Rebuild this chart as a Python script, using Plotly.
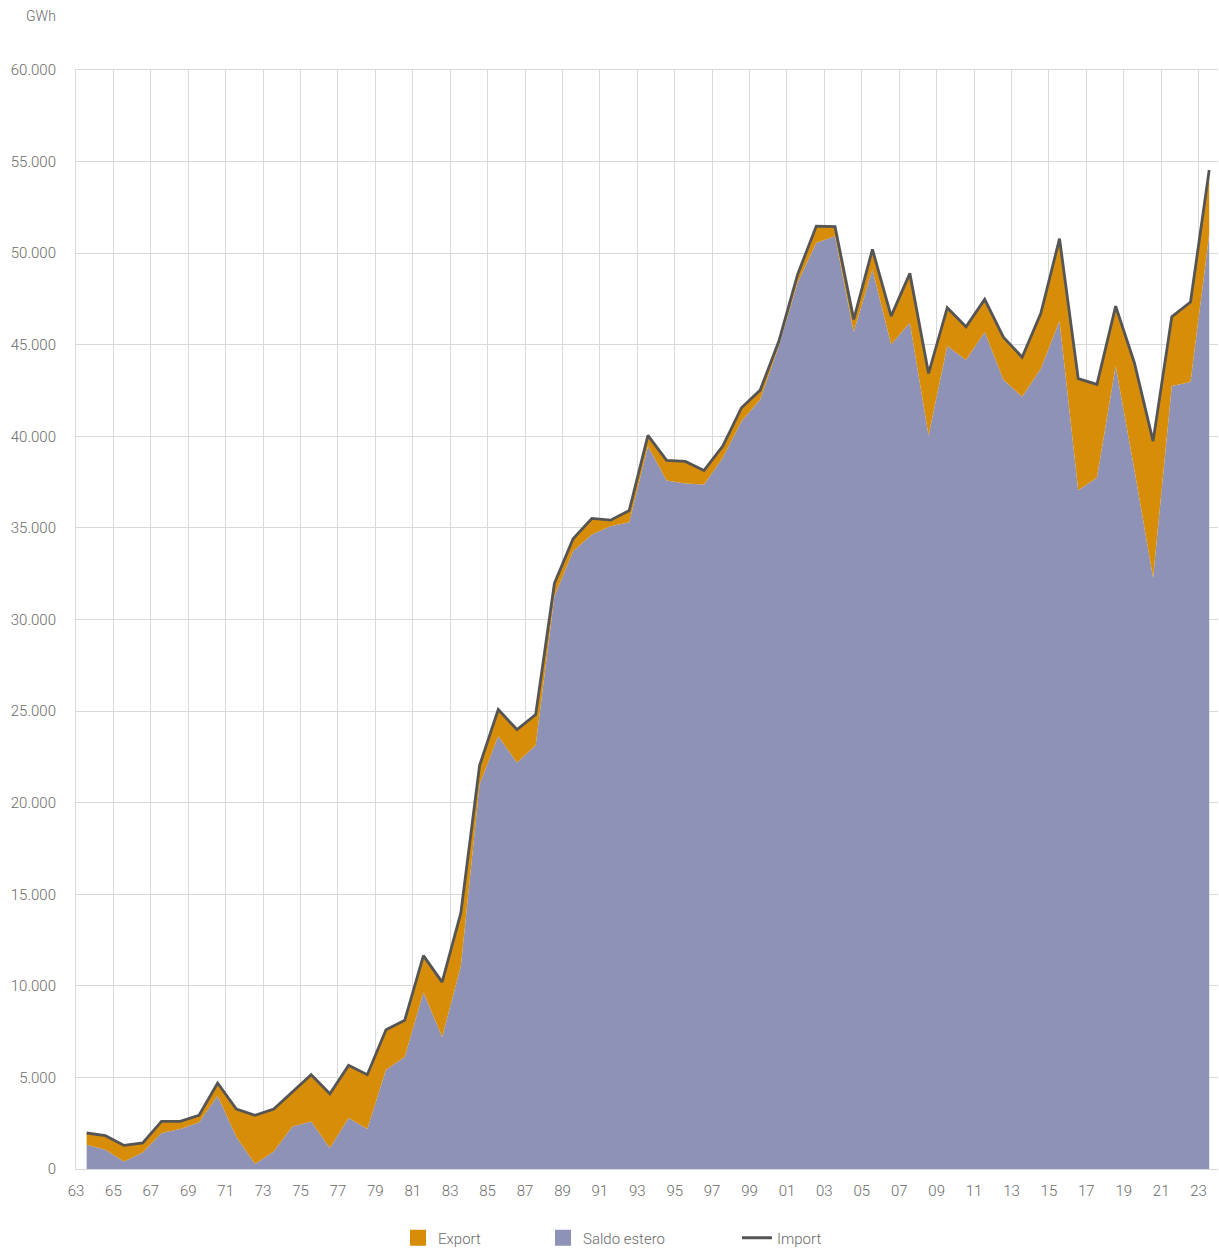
import plotly.graph_objects as go

years = list(range(1963, 2024))

# Import (GWh) - top line
import_gwh = [
    1966, 1819, 1289, 1420, 2600, 2600, 2927, 4697, 3277, 2927,
    3277, 4238, 5150, 4112, 5658, 5150, 7608, 8116, 11650, 10200,
    13981, 22026, 25085, 23992, 24812, 31966, 34407, 35516, 35424, 35953,
    40050, 38684, 38630, 38137, 39465, 41562, 42523, 45199, 48842, 51480,
    51450, 46385, 50208, 46565, 48897, 43435, 47023, 45985, 47477, 45413,
    44320, 46712, 50792, 43146, 42834, 47111, 44019, 39738, 46532, 47330,
    54539,
]

# Export (GWh)
export_gwh = [
    639, 765, 874, 513, 634, 415, 382, 694, 1529, 2654,
    2316, 1911, 2550, 2965, 2873, 2965, 2185, 1999, 2005, 2991,
    2915, 1037, 1458, 1819, 1677, 693, 677, 874, 328, 639,
    585, 1093, 1203, 765, 634, 732, 508, 273, 453, 907,
    533, 694, 1093, 1546, 2693, 3386, 2097, 1823, 1786, 2323,
    2157, 3020, 4500, 6084, 5095, 3277, 5827, 7461, 3790, 4369,
    3512,
]

# Saldo estero = Import - Export
saldo_gwh = [i - e for i, e in zip(import_gwh, export_gwh)]

tick_years = list(range(1963, 2024, 2))
tick_text = [f"{y % 100:02d}" for y in tick_years]

y_ticks = list(range(0, 60001, 5000))

ORANGE = "#d78d08"
PURPLE = "#8f92b7"
LINE = "#555555"
GRID = "#d9d9d9"
TXT = "#6a6a6a"
FONT = "Helvetica Neue, Roboto, Liberation Sans, Arial, sans-serif"

OFFSET = 0.57  # tick marks sit slightly before each year's point

fig = go.Figure()

fig.add_trace(go.Scatter(
    x=years, y=saldo_gwh, mode="lines", line=dict(width=0, color=PURPLE),
    fill="tozeroy", fillcolor=PURPLE, showlegend=False, hoverinfo="skip",
))
fig.add_trace(go.Scatter(
    x=years, y=import_gwh, mode="lines", line=dict(width=0, color=ORANGE),
    fill="tonexty", fillcolor=ORANGE, showlegend=False, hoverinfo="skip",
))
fig.add_trace(go.Scatter(
    x=years, y=import_gwh, mode="lines", line=dict(width=2.8, color=LINE),
    name="Import", legend="legend3",
))
# legend-only entries with square symbols
fig.add_trace(go.Scatter(
    x=[None], y=[None], mode="markers", name="Export",
    marker=dict(symbol="square", size=16, color=ORANGE), legend="legend",
))
fig.add_trace(go.Scatter(
    x=[None], y=[None], mode="markers", name="Saldo estero",
    marker=dict(symbol="square", size=16, color=PURPLE), legend="legend2",
))

leg_common = dict(
    orientation="h", xref="container", yref="container",
    xanchor="left", yanchor="middle", y=1 - 1238 / 1250,
    bgcolor="rgba(0,0,0,0)", font=dict(family=FONT, size=15, color=TXT, weight=300),
    itemsizing="trace",
)

fig.update_layout(
    width=1219, height=1250,
    margin=dict(l=76, r=1, t=70, b=81),
    plot_bgcolor="white", paper_bgcolor="white",
    separators=",.",
    font=dict(family=FONT, size=15, color=TXT, weight=300),
    xaxis=dict(
        range=[1963 - OFFSET, 2023 + 0.47],
        tickvals=[y - OFFSET for y in tick_years], ticktext=tick_text,
        showgrid=True, gridcolor=GRID, gridwidth=1,
        zeroline=False, showline=True, linecolor=GRID, linewidth=1, mirror=True,
        ticks="", ticklabelstandoff=8,
        tickfont=dict(family=FONT, size=15, color=TXT, weight=300),
    ),
    yaxis=dict(
        range=[0, 60000], tickvals=y_ticks, tickformat=",d",
        showgrid=True, gridcolor=GRID, gridwidth=1,
        zeroline=False, showline=True, linecolor=GRID, linewidth=1,
        ticks="", ticklabelstandoff=16,
        tickfont=dict(family=FONT, size=15, color=TXT, weight=300),
    ),
    legend=dict(x=398 / 1219, **leg_common),
    legend2=dict(x=543 / 1219, **leg_common),
    legend3=dict(x=737 / 1219, **leg_common),
    annotations=[dict(
        text="GWh", xref="paper", yref="paper",
        x=(24 - 76) / 1142, y=(1169 - 16) / 1099,
        xanchor="left", yanchor="middle", showarrow=False,
        font=dict(family=FONT, size=14, color=TXT, weight=300),
    )],
)

fig.write_html(
    "out.html",
    config={"displayModeBar": False},
    post_script="document.body.style.margin='0';document.body.style.overflow='hidden';",
)
